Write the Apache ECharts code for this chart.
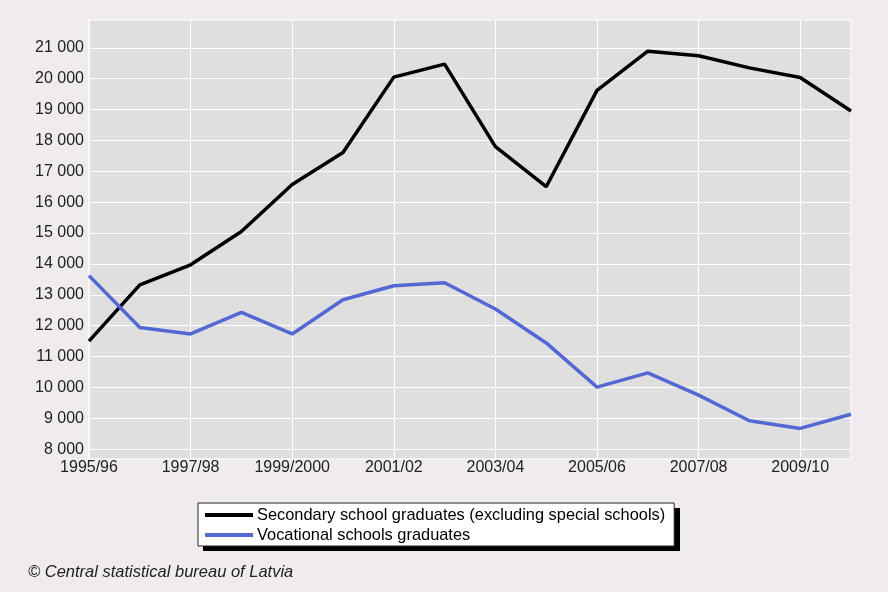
<!DOCTYPE html>
<html>
<head>
<meta charset="utf-8">
<script src="https://cdn.jsdelivr.net/npm/echarts@6/dist/echarts.min.js"></script>
<style>
  html, body { margin: 0; padding: 0; background: #efebef; }
  #chart { width: 888px; height: 592px; }
</style>
</head>
<body>
<div id="chart"></div>
<script>
const years = ['1995/96', '1996/97', '1997/98', '1998/99', '1999/2000', '2000/01', '2001/02', '2002/03',
    '2003/04', '2004/05', '2005/06', '2006/07', '2007/08', '2008/09', '2009/10', '2010/11'];
const secondary = [11500, 13320, 13970, 15050, 16570, 17610, 20050, 20470,
    17800, 16500, 19620, 20890, 20740, 20350, 20040, 18950];
const vocational = [13620, 11940, 11730, 12430, 11730, 12840, 13290, 13390,
    12540, 11440, 10010, 10470, 9750, 8920, 8670, 9130];
const yTicks = [8000, 9000, 10000, 11000, 12000, 13000, 14000, 15000, 16000, 17000, 18000, 19000, 20000, 21000];
const seriesNames = ['Secondary school graduates (excluding special schools)', 'Vocational schools graduates'];

const chart = echarts.init(document.getElementById('chart'));

// 21000 -> "21 000"
const fmt = v => String(v).replace(/\B(?=(\d{3})+(?!\d))/g, ' ');
const font = 'Liberation Sans, Arial, sans-serif';

chart.setOption({
    backgroundColor: '#efebef',
    animation: false,
    textStyle: { fontFamily: font },
    grid: {
        left: 89, top: 20, right: 37, bottom: 133,
        show: true,
        backgroundColor: '#dfdfdf',
        borderColor: '#ffffff',
        borderWidth: 1
    },
    legend: {
        orient: 'vertical',
        left: 198,
        top: 503,
        itemWidth: 48,
        itemHeight: 4,
        itemGap: 4,
        padding: [4, 9, 3, 7],
        backgroundColor: '#ffffff',
        borderColor: '#222222',
        borderWidth: 1,
        borderRadius: 0,
        textStyle: { fontSize: 16.4, color: '#000', padding: [0, 0, 0, -1] },
        data: [
            { name: seriesNames[0], icon: 'rect' },
            { name: seriesNames[1], icon: 'rect' }
        ],
        z: 10
    },
    graphic: [{
        // legend drop shadow
        type: 'rect',
        left: 203,
        top: 508,
        z: 1,
        shape: { width: 477, height: 43 },
        style: { fill: '#000000' }
    }, {
        type: 'text',
        left: 28,
        top: 564,
        style: {
            text: '© Central statistical bureau of Latvia',
            fontSize: 16.5,
            fontStyle: 'italic',
            fill: '#222',
            fontFamily: font
        }
    }],
    xAxis: {
        type: 'category',
        boundaryGap: false,
        data: years,
        axisLine: { show: false },
        axisTick: { show: false },
        axisLabel: { interval: 1, color: '#222', fontSize: 16, margin: 1 },
        splitLine: { show: true, interval: 1, lineStyle: { color: '#ffffff', width: 1 } }
    },
    yAxis: {
        type: 'value',
        min: 7680,
        max: 21900,
        axisLine: { show: false },
        axisTick: { show: false, customValues: yTicks },
        axisLabel: { customValues: yTicks, color: '#222', fontSize: 16, margin: 5, formatter: fmt },
        splitLine: { show: true, lineStyle: { color: '#ffffff', width: 1 } }
    },
    series: [{
        name: seriesNames[0],
        type: 'line',
        data: secondary,
        symbol: 'none',
        lineStyle: { color: '#000000', width: 3.5 },
        itemStyle: { color: '#000000' }
    }, {
        name: seriesNames[1],
        type: 'line',
        data: vocational,
        symbol: 'none',
        lineStyle: { color: '#5468d4', width: 3.5 },
        itemStyle: { color: '#5468d4' }
    }]
});
</script>
</body>
</html>
